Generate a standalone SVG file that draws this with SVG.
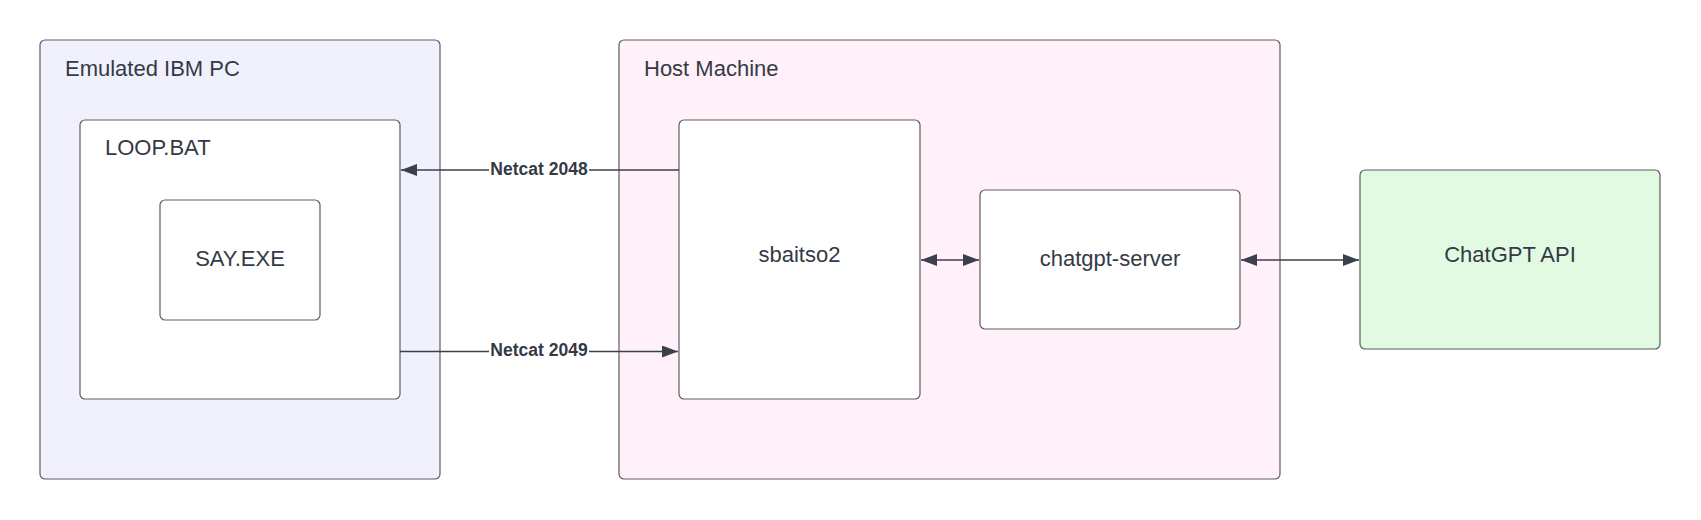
<svg xmlns="http://www.w3.org/2000/svg" width="1701" height="520" viewBox="0 0 1701 520">
<defs>
<style>
.box{stroke:#5e5e5e;stroke-width:1.2}
.t{font-family:"Liberation Sans",Arial,sans-serif;font-size:22px;fill:#333a45}
.c{text-anchor:middle}
.lbl{font-family:"Liberation Sans",Arial,sans-serif;font-size:17.5px;font-weight:bold;fill:#333a45;text-anchor:middle}
.ln{stroke:#3a414a;stroke-width:1.5;fill:none}
</style>
<marker id="ah" viewBox="0 0 16 12" refX="16" refY="6" markerWidth="16" markerHeight="12" markerUnits="userSpaceOnUse" orient="auto-start-reverse">
<path d="M0,0 L16,6 L0,12 Z" fill="#3a414a"/>
</marker>
</defs>
<rect width="1701" height="520" fill="#ffffff"/>
<g id="emulated-ibm-pc">
<rect class="box" x="40" y="40" width="400" height="439" rx="5" fill="#f1f1fd"/>
<text class="t" x="65" y="76">Emulated IBM PC</text>
</g>
<g id="loop-bat">
<rect class="box" x="80" y="120" width="320" height="279" rx="5" fill="#ffffff"/>
<text class="t" x="105" y="155">LOOP.BAT</text>
</g>
<g id="say-exe">
<rect class="box" x="160" y="200" width="160" height="120" rx="5" fill="#ffffff"/>
<text class="t c" x="240" y="266">SAY.EXE</text>
</g>
<g id="host-machine">
<rect class="box" x="619" y="40" width="661" height="439" rx="5" fill="#fff0fa"/>
<text class="t" x="644" y="76">Host Machine</text>
</g>
<g id="sbaitso2">
<rect class="box" x="679" y="120" width="241" height="279" rx="5" fill="#ffffff"/>
<text class="t c" x="799.5" y="262">sbaitso2</text>
</g>
<g id="chatgpt-server">
<rect class="box" x="980" y="190" width="260" height="139" rx="5" fill="#ffffff"/>
<text class="t c" x="1110" y="266">chatgpt-server</text>
</g>
<g id="chatgpt-api">
<rect class="box" x="1360" y="170" width="300" height="179" rx="5" fill="#e2f9e2"/>
<text class="t c" x="1510" y="262">ChatGPT API</text>
</g>
<g id="connectors">
<path class="ln" d="M679,170 L401,170" marker-end="url(#ah)"/>
<rect x="489" y="158" width="100" height="22" fill="#ffffff"/>
<text class="lbl" x="539" y="175">Netcat 2048</text>
<path class="ln" d="M400,351.5 L678,351.5" marker-end="url(#ah)"/>
<rect x="489" y="339" width="100" height="22" fill="#ffffff"/>
<text class="lbl" x="539" y="356">Netcat 2049</text>
<path class="ln" d="M921,260 L979,260" marker-start="url(#ah)" marker-end="url(#ah)"/>
<path class="ln" d="M1241,260 L1359,260" marker-start="url(#ah)" marker-end="url(#ah)"/>
</g>
</svg>
